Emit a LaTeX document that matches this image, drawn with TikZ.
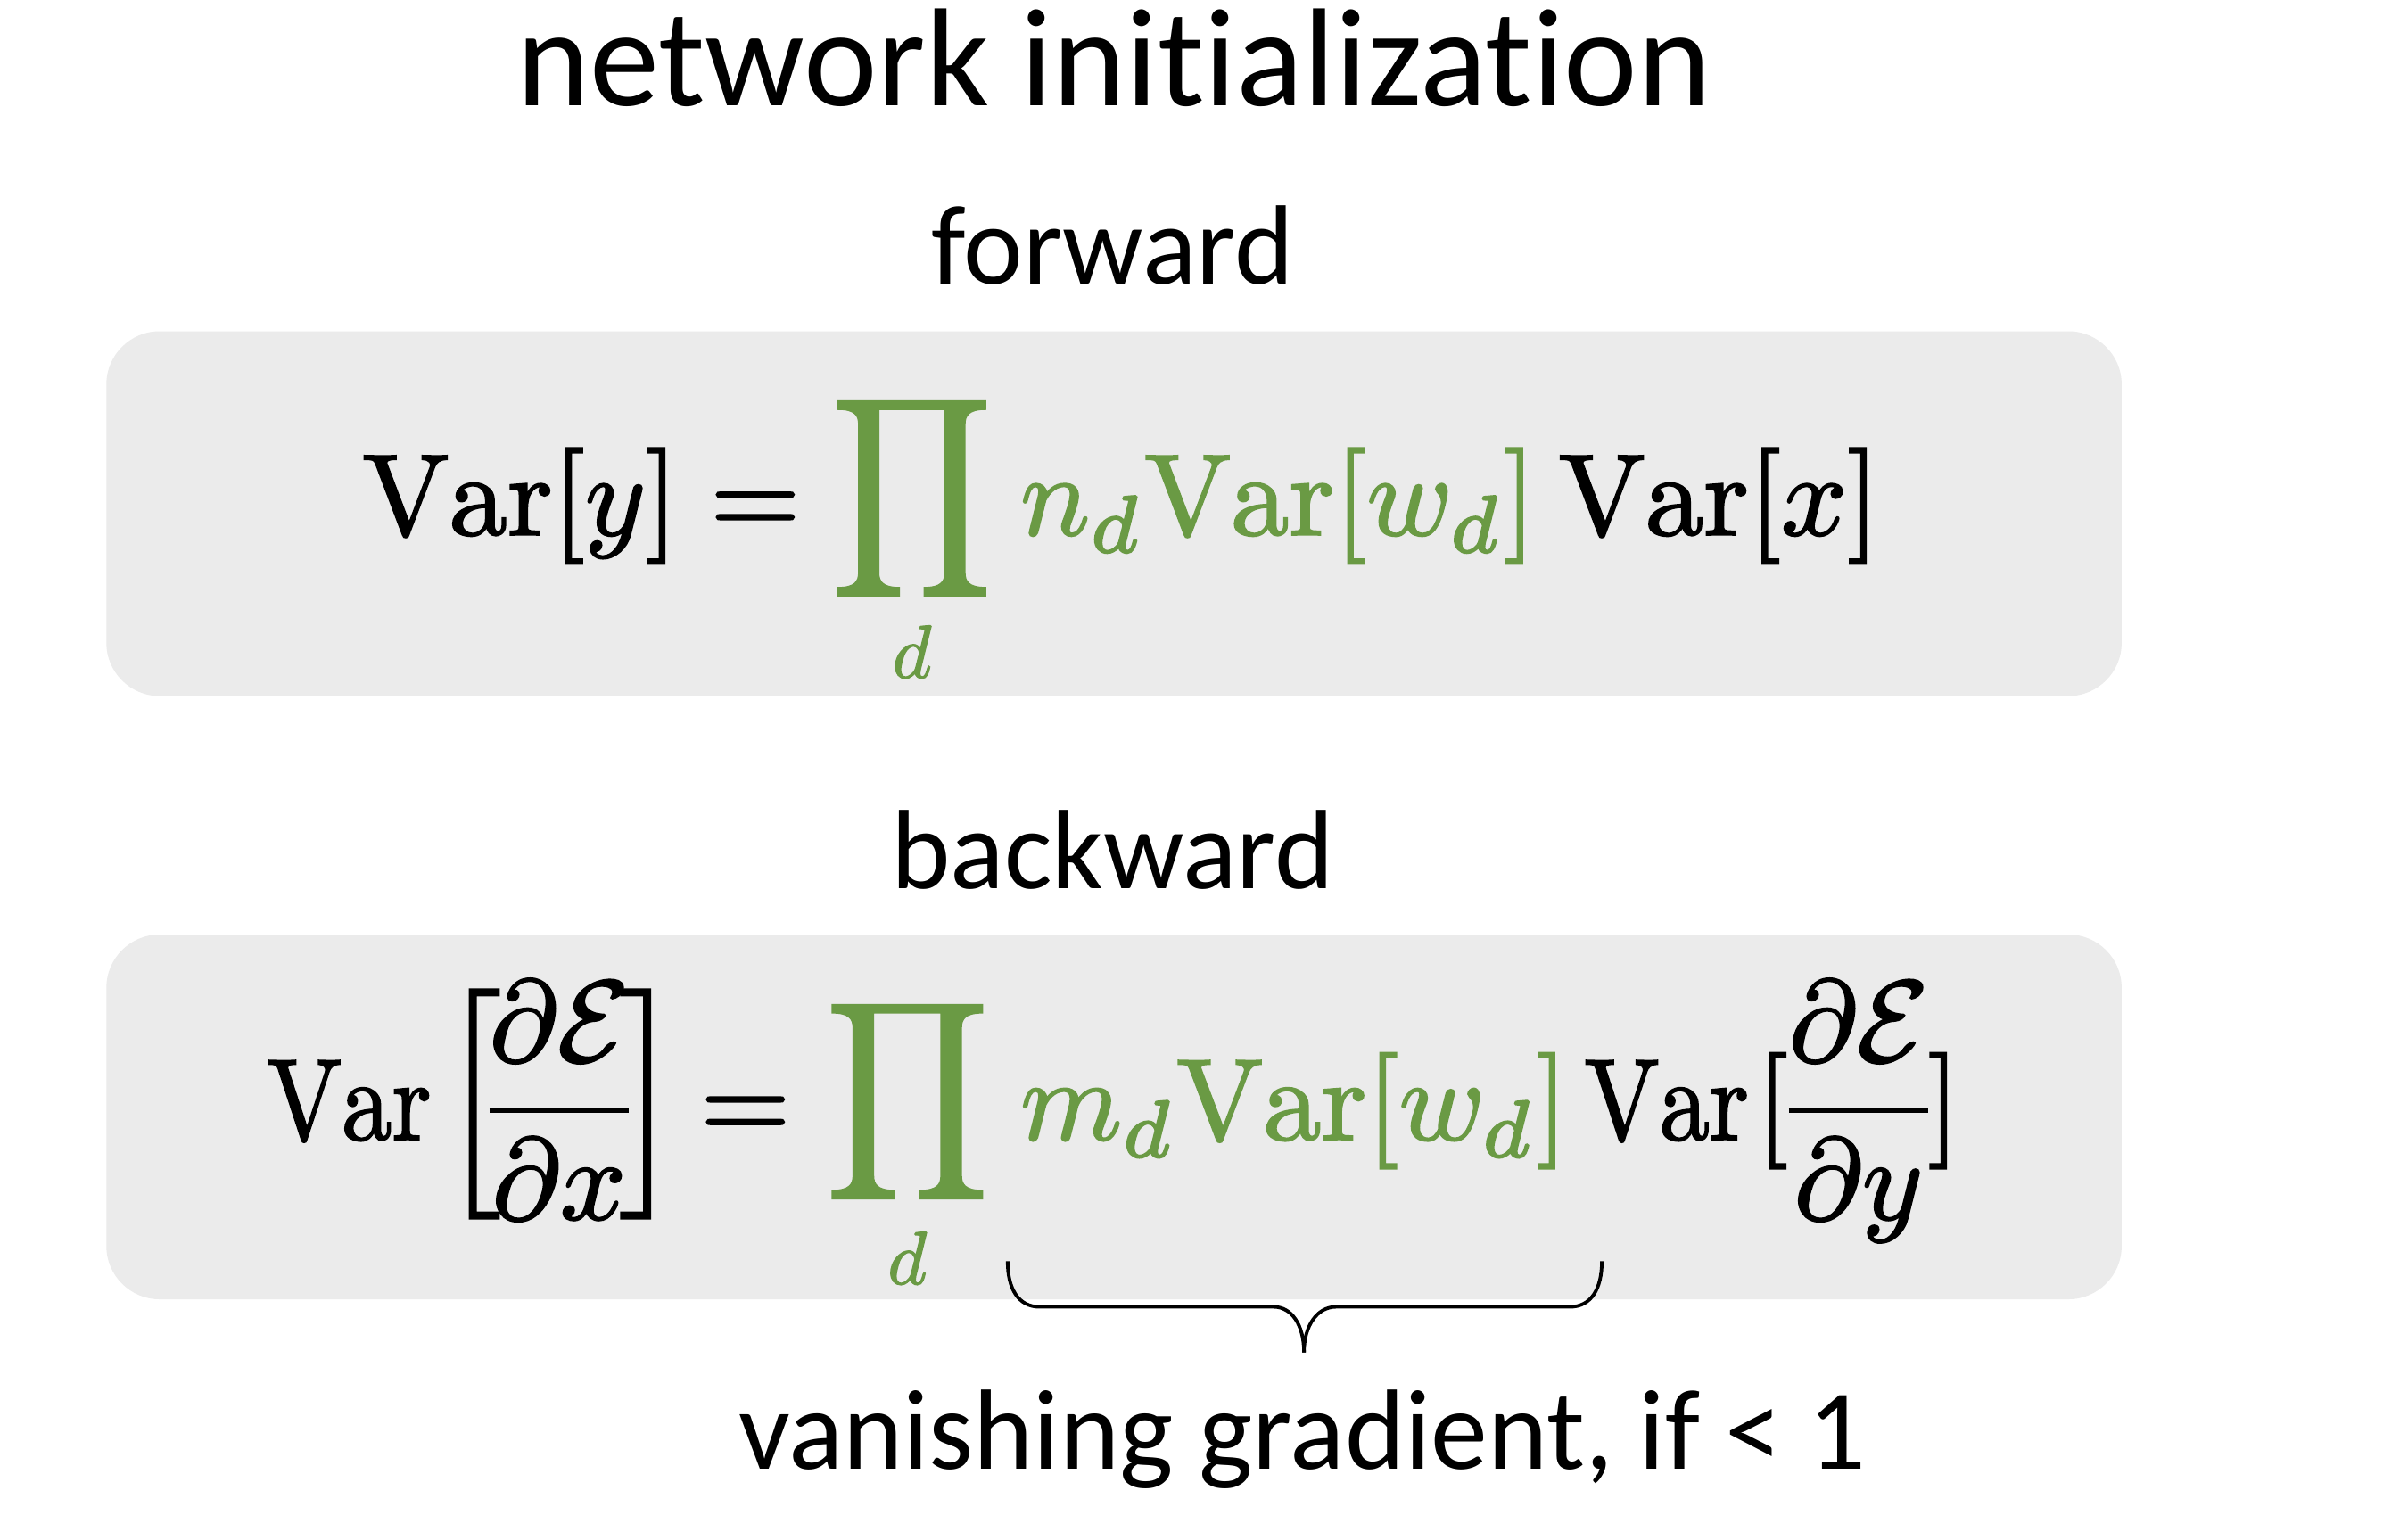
\documentclass[tikz,border=0pt]{standalone}
\usepackage{amsmath}
\usepackage{graphicx}
\usepackage{fontspec}
\newfontfamily\carlito[Ligatures=NoCommon]{Carlito}
\definecolor{eqgreen}{RGB}{106,154,68}
\definecolor{boxgray}{RGB}{235,235,235}
\newcommand{\heavy}[1]{\special{pdf:code q 2 Tr 0.16 w}#1\special{pdf:code Q}}
\newcommand{\bigeq}[1]{\scalebox{3.7}{\heavy{$#1$}}}
\newcommand{\bigvar}{\scalebox{3.2}[3.7]{\heavy{$\mathrm{Var}$}}}
\begin{document}
\begin{tikzpicture}[x=0.01704cm,y=-0.01704cm,
  titletext/.style={font={\carlito\fontsize{44.5}{50}\selectfont}, anchor=base, inner sep=0pt},
  headtext/.style={font={\carlito\fontsize{36}{40}\selectfont}, anchor=base, inner sep=0pt},
  eqtext/.style={anchor=base west, inner sep=0pt},
  greentext/.style={text=eqgreen},
  prodsym/.style={inner sep=0pt, text=eqgreen},
  subtext/.style={anchor=base, inner sep=0pt, text=eqgreen},
  delim/.style={inner sep=0pt},
  panel/.style={fill=boxgray, rounded corners=17pt},
  bracepath/.style={draw=black, line width=1.1pt}]
\useasboundingbox (0,0) rectangle (1568,1013);
\fill[white] (0,0) rectangle (1568,1013);

% panels
\path[panel] (70,218) rectangle (1396,458);
\path[panel] (70,615) rectangle (1396,855);

% headings
\node[titletext] (title) at (733,69.5) {network initialization};
\node[headtext] (fwd) at (732,187) {forward};
\node[headtext] (bwd) at (732,585) {backward};
\node[headtext, font={\carlito\fontsize{36.4}{40}\selectfont}] (vg) at (857,967) {vanishing gradient, if < 1};

% forward formula
\node[eqtext] (f1lhs) at (238,352) {\bigeq{\mathrm{Var}[y] =}};
\node[prodsym] (f1prod) at (600,328) {\resizebox*{1.806cm}{2.488cm}{\heavy{$\displaystyle\prod$}}};
\node[subtext] (f1d) at (600,446) {\scalebox{2.4}{\heavy{$d$}}};
\node[eqtext, greentext] (f1mid) at (671,352) {\bigeq{n_d\mathrm{Var}[w_d]}};
\node[eqtext] (f1rhs) at (1025,352) {\bigeq{\mathrm{Var}[x]}};

% backward formula, left side
\node[eqtext] (f2var) at (175,750) {\bigvar};
\node[delim] (f2lb) at (310,726.5) {\resizebox*{!}{2.573cm}{\heavy{$\Bigl[$}}};
\node[delim, anchor=base] (f2frac) at (368,750) {\bigeq{\dfrac{\partial\mathcal{E}}{\partial x}}};
\node[delim] (f2rb) at (427,726.5) {\resizebox*{!}{2.573cm}{\heavy{$\Bigr]$}}};
\node[delim, anchor=base] (f2eq) at (490.5,750) {\bigeq{=}};
% product
\node[prodsym] (f2prod) at (597,725) {\resizebox*{1.840cm}{2.479cm}{\heavy{$\displaystyle\prod$}}};
\node[subtext] (f2d) at (597,845) {\scalebox{2.4}{\heavy{$d$}}};
\node[eqtext, greentext] (f2mid) at (671,750) {\bigeq{m_d\mathrm{Var}[w_d]}};
% right side
\node[eqtext] (f2rvar) at (1042,750) {\bigvar};
\node[eqtext] (f2rlb) at (1155,750) {\bigeq{[}};
\node[delim, anchor=base] (f2rfrac) at (1223,750) {\bigeq{\dfrac{\partial\mathcal{E}}{\partial y}}};
\node[delim, anchor=base east] (f2rrb) at (1290,750) {\bigeq{]}};

% underbrace
\draw[bracepath] (663,830) .. controls (663,848) and (670,860) .. (684,860) -- (838,860) .. controls (850,860) and (858,872) .. (858,890);
\draw[bracepath] (1054,830) .. controls (1054,848) and (1047,860) .. (1033,860) -- (879,860) .. controls (867,860) and (858,872) .. (858,890);
\end{tikzpicture}
\end{document}
